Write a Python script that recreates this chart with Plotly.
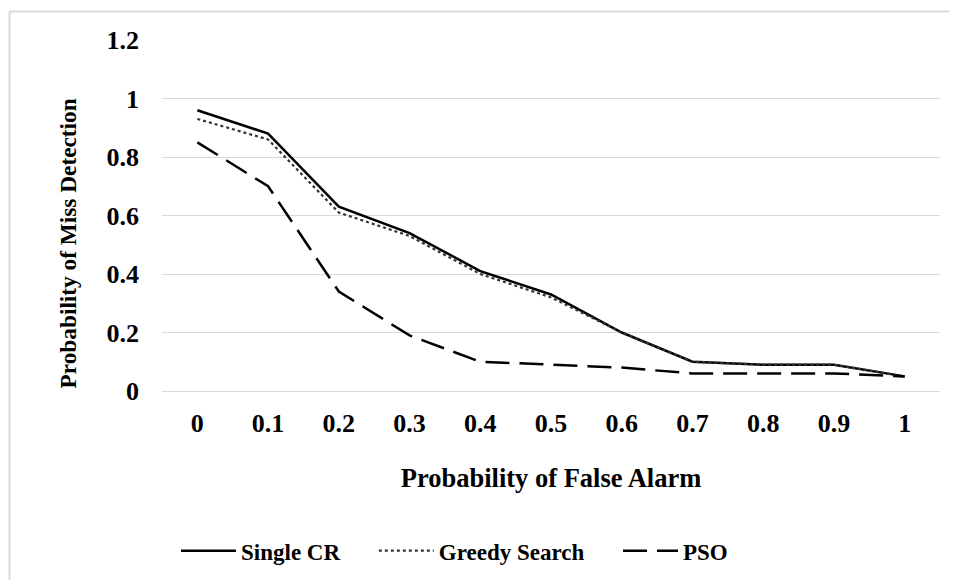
import plotly.graph_objects as go

categories = ["0", "0.1", "0.2", "0.3", "0.4", "0.5", "0.6", "0.7", "0.8", "0.9", "1"]
single_cr = [0.96, 0.88, 0.63, 0.54, 0.41, 0.33, 0.20, 0.10, 0.09, 0.09, 0.05]
greedy = [0.93, 0.86, 0.61, 0.53, 0.40, 0.32, 0.20, 0.10, 0.09, 0.09, 0.05]
pso = [0.85, 0.70, 0.34, 0.19, 0.10, 0.09, 0.08, 0.06, 0.06, 0.06, 0.05]
y_ticks = [0, 0.2, 0.4, 0.6, 0.8, 1, 1.2]
y_tick_labels = ["0", "0.2", "0.4", "0.6", "0.8", "1", "1.2"]
series_names = ["Single CR", "Greedy Search", "PSO"]

FONT = "Liberation Serif, Times New Roman, serif"
PAD = "\u00a0" * 5

fig = go.Figure()
fig.add_trace(go.Scatter(x=categories, y=single_cr, mode="lines", name="<b>%s</b>%s" % (series_names[0], PAD),
                         line=dict(color="black", width=2.5)))
fig.add_trace(go.Scatter(x=categories, y=greedy, mode="lines", name="<b>%s</b>%s" % (series_names[1], PAD),
                         line=dict(color="#333333", width=2.2, dash="dot")))
fig.add_trace(go.Scatter(x=categories, y=pso, mode="lines", name="<b>%s</b>" % series_names[2],
                         line=dict(color="black", width=2.5, dash="24px,10px")))

fig.update_layout(
    width=949, height=572,
    margin=dict(l=154, r=17, t=32, b=189, autoexpand=False),
    paper_bgcolor="white", plot_bgcolor="white",
    font=dict(family=FONT, color="black", size=24),
    showlegend=True,
    legend=dict(orientation="h", x=0.376, xanchor="center", y=-0.455, yanchor="middle",
                font=dict(family=FONT, size=23, color="black"), itemwidth=55,
                tracegroupgap=0),
    xaxis=dict(type="category", range=[-0.5, 10.5], showgrid=False, zeroline=False,
               showline=False, ticks="", tickfont=dict(family=FONT, size=26),
               ticklabelstandoff=14, automargin=False,
               title=dict(text="<b>Probability of False Alarm</b>", font=dict(family=FONT, size=26.5),
                          standoff=31),
               tickprefix="<b>", ticksuffix="</b>"),
    yaxis=dict(range=[0, 1.2], tickvals=y_ticks, ticktext=["<b>%s</b>" % t for t in y_tick_labels],
               showgrid=True, gridcolor="#d9d9d9", gridwidth=1.3, zeroline=True,
               zerolinecolor="#d9d9d9", zerolinewidth=1.3, showline=False, ticks="",
               tickfont=dict(family=FONT, size=26), ticklabelstandoff=22, automargin=False),
)

# Y axis title placed like the reference (centred lower than the plot centre)
fig.add_annotation(text="<b>Probability of Miss Detection</b>", textangle=-90,
                   xref="paper", yref="paper", x=-0.121, y=0.42, showarrow=False,
                   xanchor="center", yanchor="middle",
                   font=dict(family=FONT, size=23.3, color="black"))

# Chart area border (light gray), partly cut by the picture edges
fig.add_shape(type="line", xref="paper", yref="paper", x0=-0.196, x1=1.05, y0=1.081, y1=1.081,
              line=dict(color="#d9d9d9", width=2))
fig.add_shape(type="line", xref="paper", yref="paper", x0=-0.196, x1=-0.196, y0=1.081, y1=-0.6,
              line=dict(color="#d9d9d9", width=2))

fig.write_html("out.html")
